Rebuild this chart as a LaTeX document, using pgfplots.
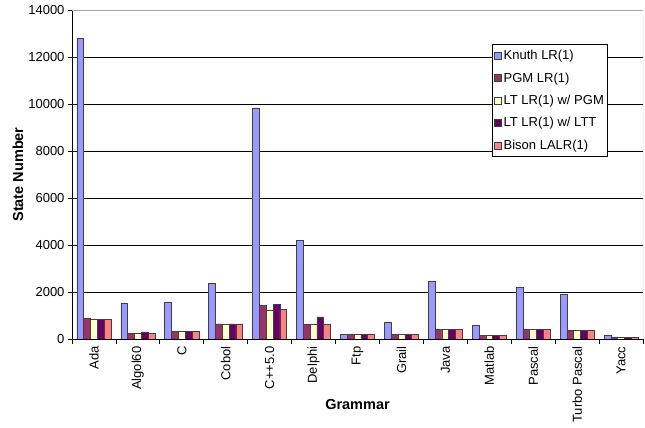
\documentclass[border=0pt]{standalone}
\usepackage{pgfplots}
\pgfplotsset{compat=1.18}
\usepackage{fontspec}
\setmainfont{Liberation Sans}
\definecolor{cKnuth}{HTML}{9999FF}
\definecolor{cPGM}{HTML}{993366}
\definecolor{cLTPGM}{HTML}{FFFFCC}
\definecolor{cLTLTT}{HTML}{660066}
\definecolor{cBison}{HTML}{FF8080}
\pgfplotsset{myleg/.style={legend image code/.code={\draw[##1,line width=0.6pt] (0pt,-3.5pt) rectangle (7pt,3.5pt);}}}
\begin{document}
\begin{tikzpicture}
\path[use as bounding box] (0,0) rectangle (645pt,428pt);
\begin{axis}[
  at={(72pt,89pt)}, anchor=south west,
  width=571pt, height=329pt, scale only axis,
  xmin=-0.5, xmax=12.5, ymin=0, ymax=14000,
  ybar=0pt, bar width=0.155,
  axis x line*=bottom, axis y line*=left,
  axis line style={black,line width=0.8pt,-},
  xtick={0,...,12},
  xticklabels={Ada,Algol60,C,Cobol,C++5.0,Delphi,Ftp,Grail,Java,Matlab,Pascal,Turbo Pascal,Yacc},
  x tick label style={rotate=90, anchor=east, font=\fontsize{13}{15}\selectfont},
  major x tick style={draw=none},
  minor xtick={-0.5,0.5,...,12.5},
  minor tick length=5pt,
  tick align=outside,
  major tick length=4pt,
  tick style={black,line width=0.8pt},
  ytick={0,2000,...,14000},
  y tick label style={font=\fontsize{13}{15}\selectfont},
  scaled y ticks=false,
  /pgf/number format/1000 sep={},
  /pgf/number format/assume math mode=true,
  ymajorgrids, grid style={black,line width=0.8pt},
  xlabel={\bfseries Grammar},
  xlabel style={at={(axis description cs:0.5,-0.1976)}, anchor=center, font=\fontsize{14.5}{16}\selectfont},
  ylabel={\bfseries State Number},
  ylabel style={at={(axis description cs:-0.0946,0.5)}, anchor=center, rotate=0, font=\fontsize{14.5}{16}\selectfont},
  legend style={at={(axis description cs:0.735,0.897)}, anchor=north west, draw=black, fill=white,
    font=\fontsize{13}{15}\selectfont, row sep=7.5pt, inner xsep=2pt, inner ysep=4pt, line width=0.8pt},
  legend cell align=left,
  every axis plot/.append style={draw=black!75, line width=0.6pt},
]
\addplot[fill=cKnuth, myleg] coordinates {(0,12800) (1,1520) (2,1575) (3,2370) (4,9800) (5,4210) (6,200) (7,720) (8,2470) (9,590) (10,2210) (11,1900) (12,150)};
\addplot[fill=cPGM, myleg] coordinates {(0,880) (1,250) (2,340) (3,640) (4,1420) (5,630) (6,200) (7,200) (8,420) (9,150) (10,420) (11,350) (12,90)};
\addplot[fill=cLTPGM, myleg] coordinates {(0,840) (1,240) (2,340) (3,640) (4,1230) (5,630) (6,200) (7,200) (8,420) (9,150) (10,420) (11,350) (12,80)};
\addplot[fill=cLTLTT, myleg] coordinates {(0,840) (1,300) (2,340) (3,640) (4,1480) (5,940) (6,200) (7,200) (8,420) (9,150) (10,420) (11,350) (12,80)};
\addplot[fill=cBison, myleg] coordinates {(0,840) (1,240) (2,340) (3,640) (4,1260) (5,630) (6,200) (7,200) (8,420) (9,150) (10,420) (11,350) (12,80)};
\legend{Knuth LR(1),PGM LR(1),LT LR(1) w/ PGM,LT LR(1) w/ LTT,Bison LALR(1)}
\draw[gray!70,line width=0.8pt] (rel axis cs:0,1) -- (rel axis cs:1,1) -- (rel axis cs:1,0);
\end{axis}
\end{tikzpicture}
\end{document}
